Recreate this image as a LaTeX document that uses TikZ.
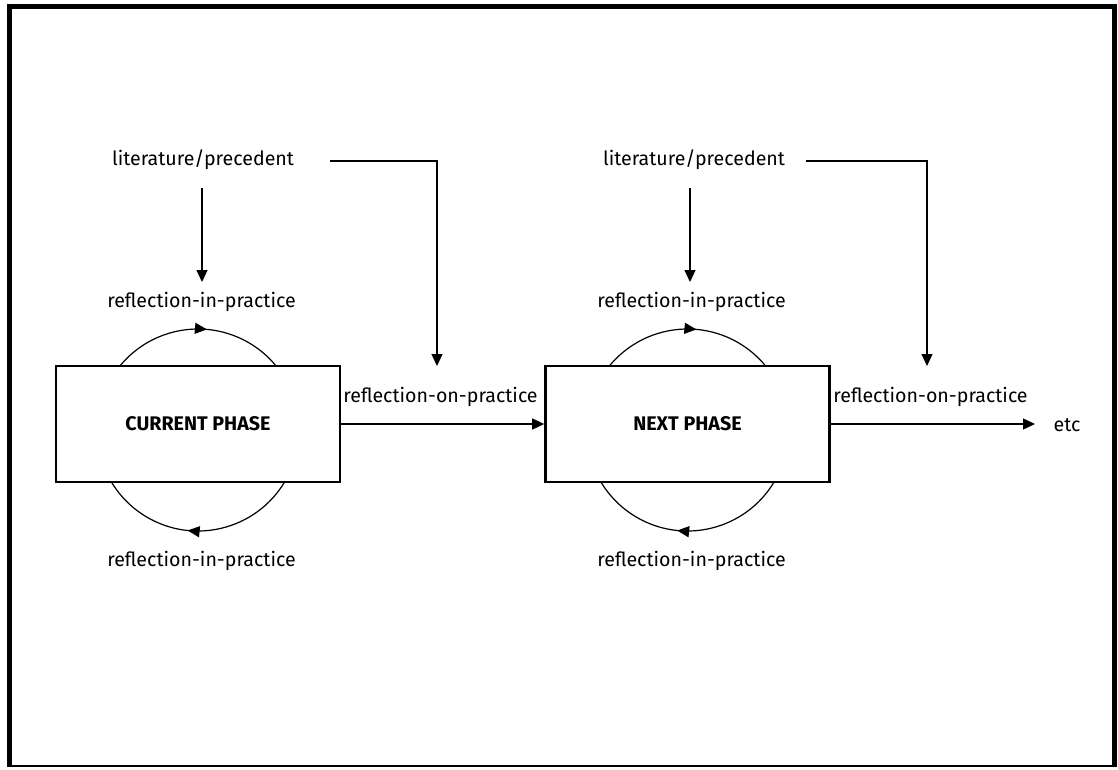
\documentclass[tikz,border=0pt]{standalone}
\usepackage{fontspec}
\setmainfont{Fira Sans}
\usetikzlibrary{arrows.meta,decorations.markings}
\begin{document}
\begin{tikzpicture}[x=1pt,y=-1pt,
  lbl/.style={inner sep=0pt,font=\fontsize{19.6}{22}\selectfont},
  phase/.style={draw,line width=2.6pt,minimum width=284pt,minimum height=116pt,inner sep=0pt,font=\fontsize{19.7}{22}\selectfont\bfseries},
  conn/.style={line width=1.2pt},
  arr/.style={conn,-{Triangle[length=12pt,width=11pt]}},
  midarr/.style={conn,decoration={markings,mark=at position #1 with {\arrow{Triangle[length=12pt,width=11pt]}}},postaction={decorate}}
]
\useasboundingbox (0,0) rectangle (1118,769);
% outer frame
\draw[line width=5pt] (9.8,766) -- (9.8,6.8) -- (1114.5,6.8) -- (1114.5,766);
\draw[line width=1.6pt] (7.3,766.2) -- (1117,766.2);

% boxes
\node[phase] (cur) at (198,424) {CURRENT PHASE};
\node[phase] (nxt) at (687.5,424) {NEXT PHASE};

% labels
\node[lbl] (lit1) at (203,160) {literature/precedent};
\node[lbl] (lit2) at (694,160) {literature/precedent};
\node[lbl] (rit1) at (201.5,302) {reflection-in-practice};
\node[lbl] (rib1) at (201.5,561) {reflection-in-practice};
\node[lbl] (rit2) at (691.5,302) {reflection-in-practice};
\node[lbl] (rib2) at (691.5,561) {reflection-in-practice};
\node[lbl] (rop1) at (440.5,397) {reflection-on-practice};
\node[lbl] (rop2) at (930.5,397) {reflection-on-practice};
\node[lbl] (etc) at (1067,425) {etc};

% loops (circle r=101 centred at (x,430)); y axis points down
\draw[midarr=0.55] (198,430) ++(219.3:101) arc[start angle=219.3,end angle=320.7,radius=101];
\draw[midarr=0.55] (198,430) ++(31:101) arc[start angle=31,end angle=149,radius=101];
\draw[midarr=0.55] (687.5,430) ++(219.3:101) arc[start angle=219.3,end angle=320.7,radius=101];
\draw[midarr=0.55] (687.5,430) ++(31:101) arc[start angle=31,end angle=149,radius=101];

% literature -> reflection-in-practice
\draw[arr] (202,188) -- (202,282);
\draw[arr] (690,188) -- (690,282);

% literature -> reflection-on-practice
\coordinate (t1) at (437,366);
\coordinate (t2) at (927,366);
\draw[arr] (330,161) -| (t1);
\draw[arr] (806,161) -| (t2);

% phase flow
\draw[arr] (cur.east) -- (nxt.west);
\draw[arr] (nxt.east) -- (1035,424);
\end{tikzpicture}
\end{document}
